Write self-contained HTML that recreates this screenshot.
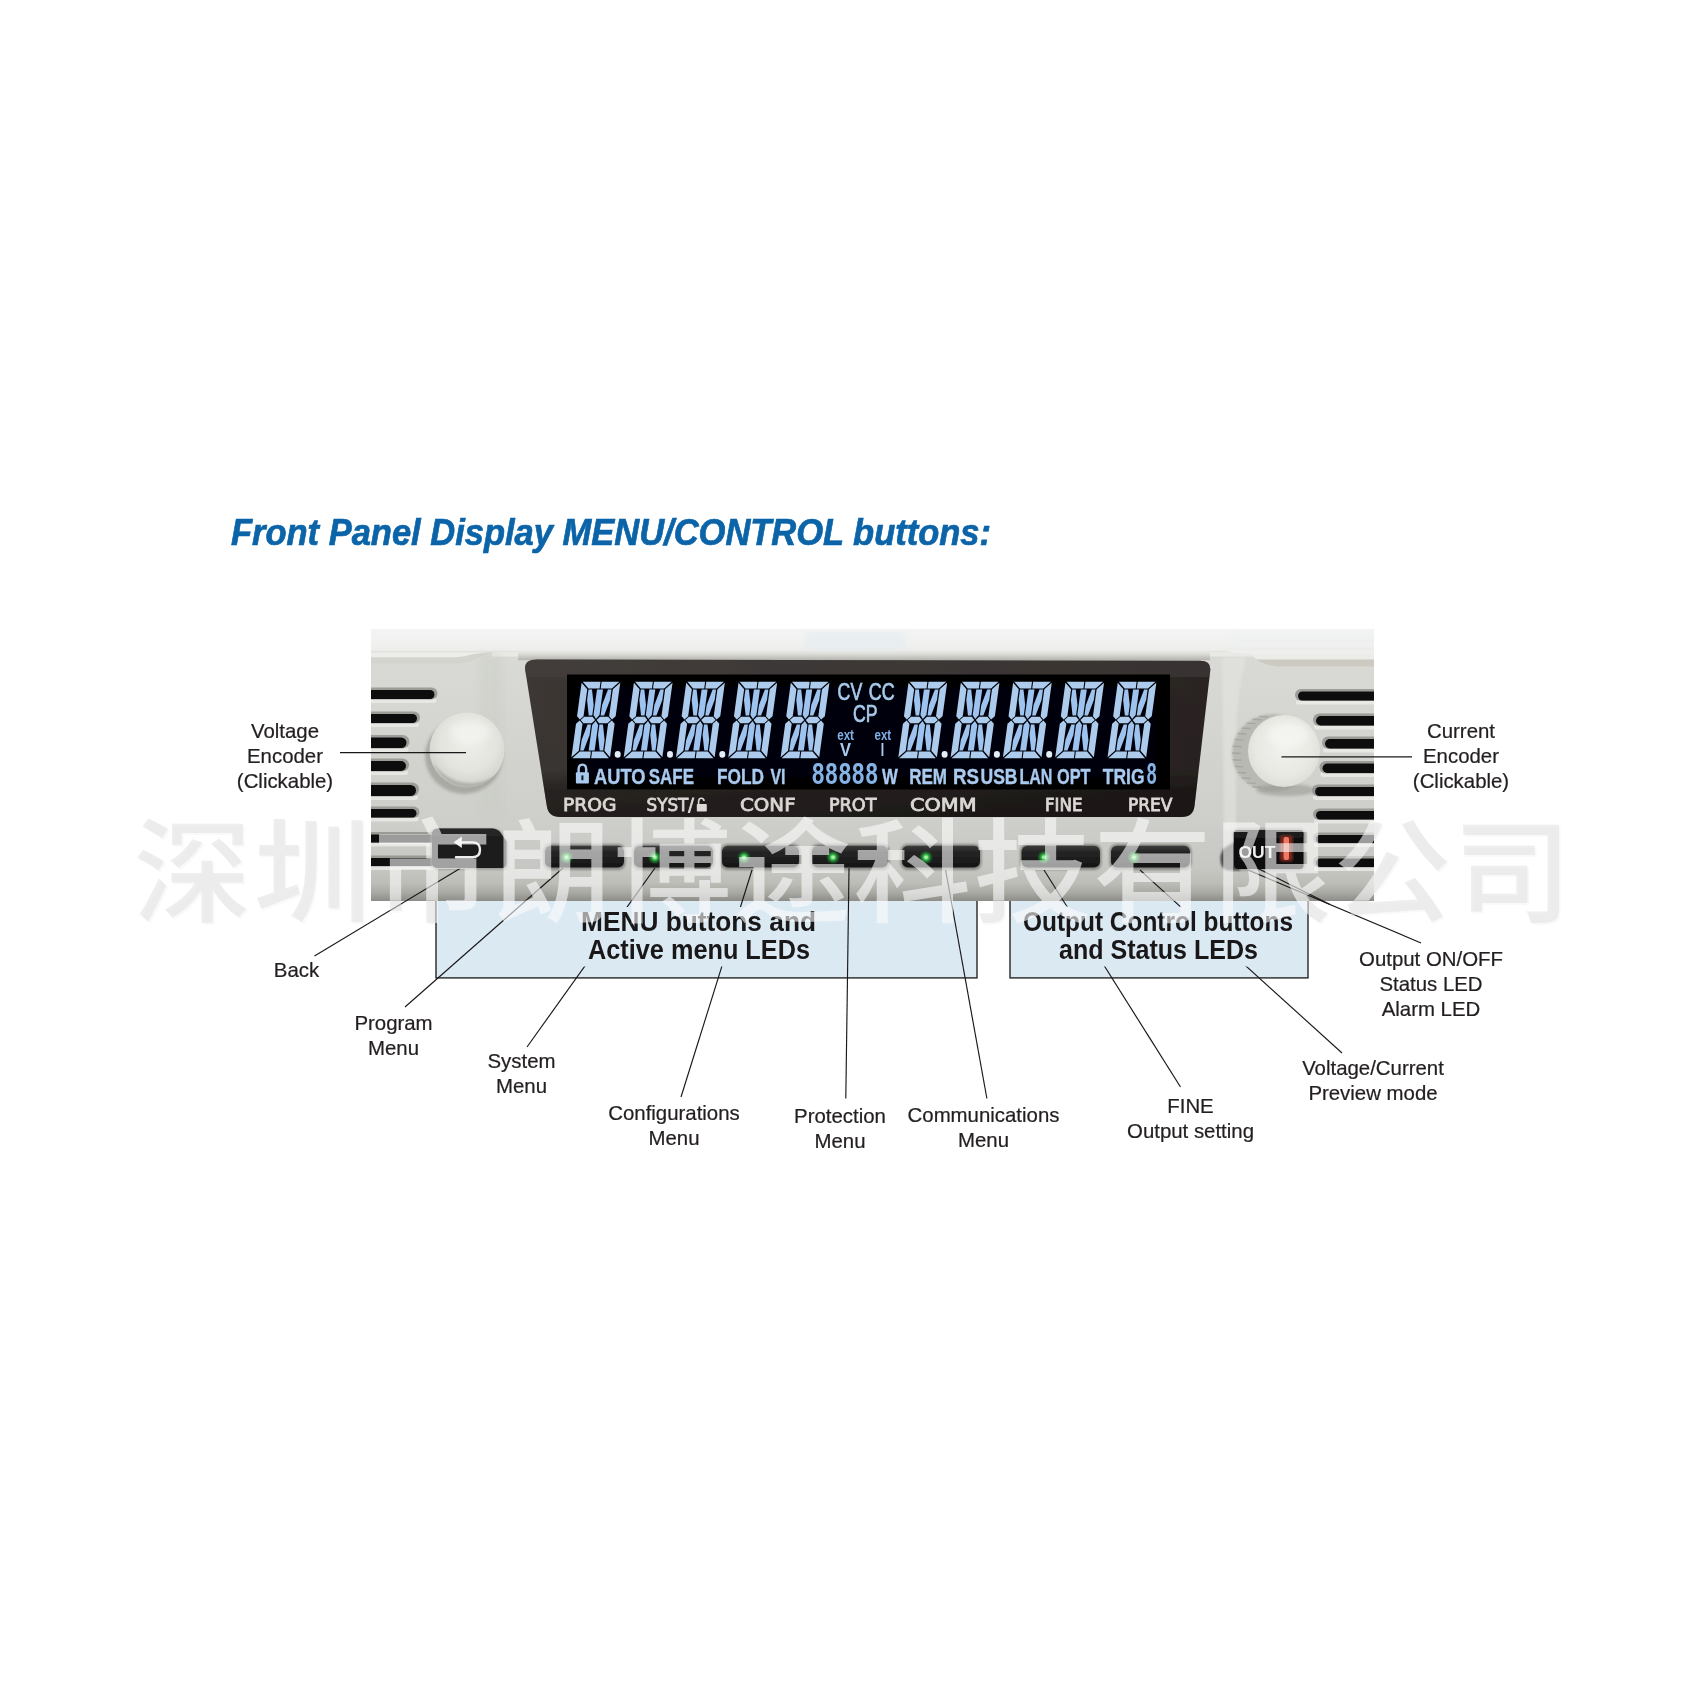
<!DOCTYPE html>
<html lang="zh-CN">
<head>
<meta charset="utf-8">
<title>Front Panel Display MENU/CONTROL buttons</title>
<style>
  html,body{margin:0;padding:0;background:#fff;}
  body{width:1702px;height:1702px;overflow:hidden;}
  svg{display:block;}
</style>
</head>
<body>
<svg width="1702" height="1702" viewBox="0 0 1702 1702" font-family="&quot;Liberation Sans&quot;, &quot;Noto Sans CJK SC&quot;, sans-serif">
<rect width="1702" height="1702" fill="#ffffff"/>

<defs>
  <clipPath id="photoClip"><rect x="371" y="629" width="1003" height="271.5"/></clipPath>
  <clipPath id="wmIn"><path d="M371 629 H1374 V900.5 H371 Z M435.3 900.5 H977.7 V978.3 H435.3 Z M1009.3 900.5 H1308.7 V978.3 H1009.3 Z"/></clipPath>
  <clipPath id="wmOut"><path d="M0 0 H1702 V1702 H0 Z M371 629 V900.5 H1374 V629 Z M435.3 900.5 V978.3 H977.7 V900.5 Z M1009.3 900.5 V978.3 H1308.7 V900.5 Z" clip-rule="evenodd"/></clipPath>
  <linearGradient id="topLip" x1="0" y1="0" x2="0" y2="1">
    <stop offset="0" stop-color="#e8e8e4"/><stop offset="0.45" stop-color="#d3d3ce"/><stop offset="1" stop-color="#b4b4ae"/>
  </linearGradient>
  <linearGradient id="bezelV" x1="0" y1="0" x2="0" y2="1">
    <stop offset="0" stop-color="#000000" stop-opacity="0"/><stop offset="0.7" stop-color="#000000" stop-opacity="0.05"/><stop offset="0.84" stop-color="#0a0606" stop-opacity="0.42"/><stop offset="1" stop-color="#0a0606" stop-opacity="0.5"/>
  </linearGradient>
  <linearGradient id="bezelH" x1="0" y1="0" x2="1" y2="0">
    <stop offset="0" stop-color="#3d3835"/><stop offset="0.5" stop-color="#332e2c"/><stop offset="1" stop-color="#2a2422"/>
  </linearGradient>
  <clipPath id="lcdClip"><rect x="566" y="673" width="604" height="119"/></clipPath>
  <linearGradient id="topStrip" x1="0" y1="0" x2="0" y2="1">
    <stop offset="0" stop-color="#f4f4f4"/><stop offset="0.7" stop-color="#f0f0ef"/><stop offset="1" stop-color="#e9e9e6"/>
  </linearGradient>
  <linearGradient id="panelV" x1="0" y1="0" x2="0" y2="1">
    <stop offset="0" stop-color="#e4e4de"/>
    <stop offset="0.10" stop-color="#d9dad5"/>
    <stop offset="0.70" stop-color="#cecfca"/>
    <stop offset="0.88" stop-color="#c6c7c2"/>
    <stop offset="0.935" stop-color="#bdbdb8"/>
    <stop offset="0.97" stop-color="#a9a9a4"/>
    <stop offset="1" stop-color="#8d8c88"/>
  </linearGradient>
  <radialGradient id="knobL" cx="0.52" cy="0.40" r="0.64">
    <stop offset="0" stop-color="#eeeeea"/><stop offset="0.6" stop-color="#e4e4df"/><stop offset="0.86" stop-color="#d6d6d0"/><stop offset="1" stop-color="#bdbdb7"/>
  </radialGradient>
  <radialGradient id="knobR" cx="0.5" cy="0.45" r="0.6">
    <stop offset="0" stop-color="#f1f1ed"/><stop offset="0.65" stop-color="#e9e9e4"/><stop offset="0.9" stop-color="#dedfd9"/><stop offset="1" stop-color="#cacac4"/>
  </radialGradient>
  <radialGradient id="led" cx="0.5" cy="0.5" r="0.5">
    <stop offset="0" stop-color="#9df29c"/><stop offset="0.3" stop-color="#47cf58"/><stop offset="0.65" stop-color="#1f8433" stop-opacity="0.7"/><stop offset="1" stop-color="#1a5a28" stop-opacity="0"/>
  </radialGradient>
  <linearGradient id="btn" x1="0" y1="0" x2="0" y2="1">
    <stop offset="0" stop-color="#3c3c3c"/><stop offset="0.3" stop-color="#242424"/><stop offset="1" stop-color="#151515"/>
  </linearGradient>
  <linearGradient id="segV" x1="0" y1="0" x2="0" y2="1">
    <stop offset="0" stop-color="#a9cbee"/><stop offset="1" stop-color="#8fb6e2"/>
  </linearGradient>
  <filter id="photoBlur" filterUnits="userSpaceOnUse" x="351" y="609" width="1043" height="312"><feGaussianBlur stdDeviation="0.6"/></filter>
  <filter id="soft" x="-5%" y="-5%" width="110%" height="110%"><feGaussianBlur stdDeviation="0.7"/></filter>
  <filter id="soft1" x="-5%" y="-5%" width="110%" height="110%"><feGaussianBlur stdDeviation="1.1"/></filter>
  <filter id="soft2" x="-10%" y="-10%" width="120%" height="120%"><feGaussianBlur stdDeviation="1.8"/></filter>
  <filter id="soft3" x="-20%" y="-20%" width="140%" height="140%"><feGaussianBlur stdDeviation="3.2"/></filter>
  <filter id="soft5" x="-30%" y="-30%" width="160%" height="160%"><feGaussianBlur stdDeviation="5"/></filter>
  <filter id="tsoft" x="-5%" y="-30%" width="110%" height="160%"><feGaussianBlur stdDeviation="0.5"/></filter>
  <filter id="glow" x="-10%" y="-10%" width="120%" height="120%"><feGaussianBlur stdDeviation="0.75"/></filter>
</defs>


<g id="boxes">
  <rect x="436" y="890" width="541" height="87.9" fill="#dbe9f3" stroke="#262626" stroke-width="1.4"/>
  <rect x="1010" y="890" width="298" height="87.9" fill="#dbe9f3" stroke="#262626" stroke-width="1.4"/>
</g>

<g id="photo" clip-path="url(#photoClip)">
<g filter="url(#photoBlur)">
<rect x="351" y="609" width="1043" height="312" fill="#d8d8d3"/>
<rect x="371" y="629" width="1003" height="272" fill="url(#panelV)"/>
<rect x="371" y="629" width="1003" height="24.5" fill="url(#topStrip)"/>
<rect x="805" y="632" width="100" height="18" fill="#dfeaf1" opacity="0.5" filter="url(#soft3)"/>
<rect x="1230" y="632" width="150" height="18" fill="#e8ecf0" opacity="0.2" filter="url(#soft3)"/>
<g filter="url(#soft)">
<rect x="371" y="651.2" width="1003" height="1.6" fill="#dcdcd8" opacity="0.7"/>
<rect x="492" y="652" width="882" height="4.5" fill="#e9e9e5"/>
<rect x="518" y="651.6" width="692" height="8.6" fill="url(#topLip)"/>
<path d="M371 652.5 L488 652.5 Q476 653.5 468 655.5 Q460 657.5 448 657.5 L371 657.5 Z" fill="#edede9"/>
<path d="M371 657.5 L448 657.5 Q460 657.5 468 655.5 Q476 653.5 488 652.5 L496 652.5 Q484 654.5 477 658.5 Q469 663.2 456 663.2 L371 663.2 Z" fill="#d2d3cd" opacity="0.9"/>
<rect x="480" y="655" width="22" height="160" fill="#c9cac4" opacity="0.35" filter="url(#soft3)"/>
<path d="M1222 657 L1246 657 Q1236 700 1236 740 L1236 830 L1224 830 Z" fill="#e6e6e2" opacity="0.55" filter="url(#soft2)"/>
<path d="M1228 650.5 L1374 650.5 L1374 654.2 L1258 654.2 Q1240 653.8 1228 651.6 Z" fill="#efefee"/>
<path d="M1252 654.4 L1374 654.4 L1374 659.8 L1257 659.8 Q1253 657 1252 654.4 Z" fill="#ecece8"/>
<path d="M1256 659.6 L1374 659.6 L1374 666.4 L1278 666.4 Q1265 665.4 1256 659.6 Z" fill="#cbc8bf" opacity="0.9"/>
<rect x="360" y="698" width="76.5" height="5" rx="2.5" fill="#ecece8" opacity="0.75"/>
<rect x="360" y="687.5" width="77.5" height="12" rx="6" fill="#8e8e89" opacity="0.8"/>
<rect x="360" y="690" width="74.5" height="9" rx="4.5" fill="#0d0d0d"/>
<rect x="360" y="722" width="59" height="5" rx="2.5" fill="#ecece8" opacity="0.75"/>
<rect x="360" y="711.5" width="60" height="12" rx="6" fill="#8e8e89" opacity="0.8"/>
<rect x="360" y="714" width="57" height="9" rx="4.5" fill="#0d0d0d"/>
<rect x="360" y="747" width="48.5" height="5" rx="2.5" fill="#ecece8" opacity="0.75"/>
<rect x="360" y="735" width="49.5" height="13.5" rx="6.75" fill="#8e8e89" opacity="0.8"/>
<rect x="360" y="737.5" width="46.5" height="10.5" rx="5.25" fill="#0d0d0d"/>
<rect x="360" y="770" width="48" height="5" rx="2.5" fill="#ecece8" opacity="0.75"/>
<rect x="360" y="758.5" width="49" height="13" rx="6.5" fill="#8e8e89" opacity="0.8"/>
<rect x="360" y="761" width="46" height="10" rx="5" fill="#0d0d0d"/>
<rect x="360" y="795" width="58" height="5" rx="2.5" fill="#ecece8" opacity="0.75"/>
<rect x="360" y="782.5" width="59" height="14" rx="7" fill="#8e8e89" opacity="0.8"/>
<rect x="360" y="785" width="56" height="11" rx="5.5" fill="#0d0d0d"/>
<rect x="360" y="816.5" width="58.5" height="5" rx="2.5" fill="#ecece8" opacity="0.75"/>
<rect x="360" y="806.5" width="59.5" height="11.5" rx="5.75" fill="#8e8e89" opacity="0.8"/>
<rect x="360" y="809" width="56.5" height="8.5" rx="4.25" fill="#0d0d0d"/>
<rect x="360" y="841.5" width="76" height="5" rx="2.5" fill="#ecece8" opacity="0.75"/>
<rect x="360" y="832" width="77" height="11" rx="5.5" fill="#8e8e89" opacity="0.8"/>
<rect x="360" y="834.5" width="74" height="8" rx="4" fill="#0d0d0d"/>
<rect x="360" y="865" width="76" height="5" rx="2.5" fill="#ecece8" opacity="0.75"/>
<rect x="360" y="855.5" width="77" height="11" rx="5.5" fill="#8e8e89" opacity="0.8"/>
<rect x="360" y="858" width="74" height="8" rx="4" fill="#0d0d0d"/>
<rect x="1296" y="699.5" width="92" height="5" rx="2.5" fill="#f0f0ec" opacity="0.7"/>
<rect x="1295" y="689" width="92" height="12" rx="6" fill="#8e8e89" opacity="0.8"/>
<rect x="1298" y="691.5" width="92" height="9" rx="4.5" fill="#0d0d0d"/>
<rect x="1314" y="724.5" width="74" height="5" rx="2.5" fill="#f0f0ec" opacity="0.7"/>
<rect x="1313" y="713.5" width="74" height="12.5" rx="6.25" fill="#8e8e89" opacity="0.8"/>
<rect x="1316" y="716" width="74" height="9.5" rx="4.75" fill="#0d0d0d"/>
<rect x="1323" y="747.5" width="65" height="5" rx="2.5" fill="#f0f0ec" opacity="0.7"/>
<rect x="1322" y="736.5" width="65" height="12.5" rx="6.25" fill="#8e8e89" opacity="0.8"/>
<rect x="1325" y="739" width="65" height="9.5" rx="4.75" fill="#0d0d0d"/>
<rect x="1320.5" y="772" width="67.5" height="5" rx="2.5" fill="#f0f0ec" opacity="0.7"/>
<rect x="1319.5" y="761" width="67.5" height="12.5" rx="6.25" fill="#8e8e89" opacity="0.8"/>
<rect x="1322.5" y="763.5" width="67.5" height="9.5" rx="4.75" fill="#0d0d0d"/>
<rect x="1313" y="795" width="75" height="5" rx="2.5" fill="#f0f0ec" opacity="0.7"/>
<rect x="1312" y="784.5" width="75" height="12" rx="6" fill="#8e8e89" opacity="0.8"/>
<rect x="1315" y="787" width="75" height="9" rx="4.5" fill="#0d0d0d"/>
<rect x="1314" y="818.5" width="74" height="5" rx="2.5" fill="#f0f0ec" opacity="0.7"/>
<rect x="1313" y="808.5" width="74" height="11.5" rx="5.75" fill="#8e8e89" opacity="0.8"/>
<rect x="1316" y="811" width="74" height="8.5" rx="4.25" fill="#0d0d0d"/>
<rect x="1314" y="842" width="74" height="5" rx="2.5" fill="#f0f0ec" opacity="0.7"/>
<rect x="1313" y="832.5" width="74" height="11" rx="5.5" fill="#8e8e89" opacity="0.8"/>
<rect x="1316" y="835" width="74" height="8" rx="4" fill="#0d0d0d"/>
<rect x="1314" y="866" width="74" height="5" rx="2.5" fill="#f0f0ec" opacity="0.7"/>
<rect x="1313" y="856" width="74" height="11.5" rx="5.75" fill="#8e8e89" opacity="0.8"/>
<rect x="1316" y="858.5" width="74" height="8.5" rx="4.25" fill="#0d0d0d"/>
</g>
<ellipse cx="464" cy="756" rx="39" ry="38" fill="#9d9d97" opacity="0.75" filter="url(#soft2)"/>
<circle cx="467" cy="750" r="37.5" fill="url(#knobL)" filter="url(#soft)"/>
<path d="M433 762 A37 37 0 0 0 497 774 A44 44 0 0 1 433 762 Z" fill="#a5a59f" opacity="0.7" filter="url(#soft1)"/>
<ellipse cx="470" cy="732" rx="20" ry="11" fill="#f6f6f3" opacity="0.6" filter="url(#soft3)"/>
<ellipse cx="1273" cy="753" rx="41" ry="39" fill="#b9b9b3" filter="url(#soft1)"/>
<line x1="1258.98" y1="716.35" x2="1267.98" y2="716.85" stroke="#9a9a94" stroke-width="1.4" opacity="0.6"/>
<line x1="1252.5" y1="719.23" x2="1261.5" y2="719.73" stroke="#9a9a94" stroke-width="1.4" opacity="0.6"/>
<line x1="1246.65" y1="723.12" x2="1255.65" y2="723.62" stroke="#9a9a94" stroke-width="1.4" opacity="0.6"/>
<line x1="1241.59" y1="727.93" x2="1250.59" y2="728.43" stroke="#9a9a94" stroke-width="1.4" opacity="0.6"/>
<line x1="1237.49" y1="733.5" x2="1246.49" y2="734" stroke="#9a9a94" stroke-width="1.4" opacity="0.6"/>
<line x1="1234.47" y1="739.66" x2="1243.47" y2="740.16" stroke="#9a9a94" stroke-width="1.4" opacity="0.6"/>
<line x1="1232.62" y1="746.23" x2="1241.62" y2="746.73" stroke="#9a9a94" stroke-width="1.4" opacity="0.6"/>
<line x1="1232" y1="753" x2="1241" y2="753.5" stroke="#9a9a94" stroke-width="1.4" opacity="0.6"/>
<line x1="1232.62" y1="759.77" x2="1241.62" y2="760.27" stroke="#9a9a94" stroke-width="1.4" opacity="0.6"/>
<line x1="1234.47" y1="766.34" x2="1243.47" y2="766.84" stroke="#9a9a94" stroke-width="1.4" opacity="0.6"/>
<line x1="1237.49" y1="772.5" x2="1246.49" y2="773" stroke="#9a9a94" stroke-width="1.4" opacity="0.6"/>
<line x1="1241.59" y1="778.07" x2="1250.59" y2="778.57" stroke="#9a9a94" stroke-width="1.4" opacity="0.6"/>
<line x1="1246.65" y1="782.88" x2="1255.65" y2="783.38" stroke="#9a9a94" stroke-width="1.4" opacity="0.6"/>
<line x1="1252.5" y1="786.77" x2="1261.5" y2="787.27" stroke="#9a9a94" stroke-width="1.4" opacity="0.6"/>
<ellipse cx="1286" cy="790" rx="30" ry="6" fill="#8f8f89" opacity="0.5" filter="url(#soft2)"/>
<circle cx="1284" cy="751" r="36" fill="url(#knobR)" filter="url(#soft)"/>
<ellipse cx="1288" cy="735" rx="20" ry="12" fill="#f8f8f5" opacity="0.6" filter="url(#soft3)"/>
<g filter="url(#soft)">
<path d="M537 659.5 L1200 660.8 Q1211.5 660.8 1210.2 671 L1194.5 806 Q1193 817 1182 817 L560 817 Q548.5 817 546.8 806 L525.2 670 Q523.6 659.5 537 659.5 Z" fill="url(#bezelH)"/>
<path d="M537 659.5 L1200 660.8 Q1211.5 660.8 1210.2 671 L1194.5 806 Q1193 817 1182 817 L560 817 Q548.5 817 546.8 806 L525.2 670 Q523.6 659.5 537 659.5 Z" fill="url(#bezelV)"/>
<path d="M537 659.5 L1200 660.8 Q1211.5 660.8 1210.2 671 L1209.4 677 L526.3 677 L525.2 670 Q523.6 659.5 537 659.5 Z" fill="#4a4542" opacity="0.45"/>
<rect x="567" y="674.5" width="603" height="115" fill="#020203"/>
</g>
<g id="lcd">
<rect x="575" y="682" width="585" height="100" fill="#0a1626" opacity="0.22" filter="url(#soft5)"/>
<g filter="url(#glow)">
<g transform="translate(571.3 758.2) skewX(-7.8) translate(0 -76.4)"><path d="M1 0 L18.75 0 L18.75 6.6 L7.6 6.6 Z M19.85 0 L37.6 0 L31 6.6 L19.85 6.6 Z M7.6 69.8 L18.75 69.8 L18.75 76.4 L1 76.4 Z M19.85 69.8 L31 69.8 L37.6 76.4 L19.85 76.4 Z M0 1 L6.5 7.5 L6.5 34.45 L3.25 37.65 L0 34.45 Z M0 41.95 L3.25 38.75 L6.5 41.95 L6.5 68.9 L0 75.4 Z M38.6 1 L32.1 7.5 L32.1 34.45 L35.35 37.65 L38.6 34.45 Z M38.6 41.95 L35.35 38.75 L32.1 41.95 L32.1 68.9 L38.6 75.4 Z M4.1 38.2 L7.35 35 L15.55 35 L18.55 38.2 L15.55 41.4 L7.35 41.4 Z M34.5 38.2 L31.25 35 L23.05 35 L20.05 38.2 L23.05 41.4 L31.25 41.4 Z" fill="#adcced"/><path d="M16.3 7.7 L22.3 7.7 L22.3 33.3 L19.3 37.1 L16.3 33.3 Z M16.3 68.7 L22.3 68.7 L22.3 43.1 L19.3 39.3 L16.3 43.1 Z M7.8 7.8 L11.3 7.8 L15.1 23.3 L15.1 33.8 L11.6 33.8 L7.8 18.3 Z M30.8 7.8 L27.3 7.8 L23.5 23.3 L23.5 33.8 L27 33.8 L30.8 18.3 Z M7.8 68.6 L11.3 68.6 L15.1 53.1 L15.1 42.6 L11.6 42.6 L7.8 58.1 Z M30.8 68.6 L27.3 68.6 L23.5 53.1 L23.5 42.6 L27 42.6 L30.8 58.1 Z" fill="#9dc3ee"/></g>
<g transform="translate(623.6 758.2) skewX(-7.8) translate(0 -76.4)"><path d="M1 0 L18.75 0 L18.75 6.6 L7.6 6.6 Z M19.85 0 L37.6 0 L31 6.6 L19.85 6.6 Z M7.6 69.8 L18.75 69.8 L18.75 76.4 L1 76.4 Z M19.85 69.8 L31 69.8 L37.6 76.4 L19.85 76.4 Z M0 1 L6.5 7.5 L6.5 34.45 L3.25 37.65 L0 34.45 Z M0 41.95 L3.25 38.75 L6.5 41.95 L6.5 68.9 L0 75.4 Z M38.6 1 L32.1 7.5 L32.1 34.45 L35.35 37.65 L38.6 34.45 Z M38.6 41.95 L35.35 38.75 L32.1 41.95 L32.1 68.9 L38.6 75.4 Z M4.1 38.2 L7.35 35 L15.55 35 L18.55 38.2 L15.55 41.4 L7.35 41.4 Z M34.5 38.2 L31.25 35 L23.05 35 L20.05 38.2 L23.05 41.4 L31.25 41.4 Z" fill="#adcced"/><path d="M16.3 7.7 L22.3 7.7 L22.3 33.3 L19.3 37.1 L16.3 33.3 Z M16.3 68.7 L22.3 68.7 L22.3 43.1 L19.3 39.3 L16.3 43.1 Z M7.8 7.8 L11.3 7.8 L15.1 23.3 L15.1 33.8 L11.6 33.8 L7.8 18.3 Z M30.8 7.8 L27.3 7.8 L23.5 23.3 L23.5 33.8 L27 33.8 L30.8 18.3 Z M7.8 68.6 L11.3 68.6 L15.1 53.1 L15.1 42.6 L11.6 42.6 L7.8 58.1 Z M30.8 68.6 L27.3 68.6 L23.5 53.1 L23.5 42.6 L27 42.6 L30.8 58.1 Z" fill="#9dc3ee"/></g>
<g transform="translate(675.9 758.2) skewX(-7.8) translate(0 -76.4)"><path d="M1 0 L18.75 0 L18.75 6.6 L7.6 6.6 Z M19.85 0 L37.6 0 L31 6.6 L19.85 6.6 Z M7.6 69.8 L18.75 69.8 L18.75 76.4 L1 76.4 Z M19.85 69.8 L31 69.8 L37.6 76.4 L19.85 76.4 Z M0 1 L6.5 7.5 L6.5 34.45 L3.25 37.65 L0 34.45 Z M0 41.95 L3.25 38.75 L6.5 41.95 L6.5 68.9 L0 75.4 Z M38.6 1 L32.1 7.5 L32.1 34.45 L35.35 37.65 L38.6 34.45 Z M38.6 41.95 L35.35 38.75 L32.1 41.95 L32.1 68.9 L38.6 75.4 Z M4.1 38.2 L7.35 35 L15.55 35 L18.55 38.2 L15.55 41.4 L7.35 41.4 Z M34.5 38.2 L31.25 35 L23.05 35 L20.05 38.2 L23.05 41.4 L31.25 41.4 Z" fill="#adcced"/><path d="M16.3 7.7 L22.3 7.7 L22.3 33.3 L19.3 37.1 L16.3 33.3 Z M16.3 68.7 L22.3 68.7 L22.3 43.1 L19.3 39.3 L16.3 43.1 Z M7.8 7.8 L11.3 7.8 L15.1 23.3 L15.1 33.8 L11.6 33.8 L7.8 18.3 Z M30.8 7.8 L27.3 7.8 L23.5 23.3 L23.5 33.8 L27 33.8 L30.8 18.3 Z M7.8 68.6 L11.3 68.6 L15.1 53.1 L15.1 42.6 L11.6 42.6 L7.8 58.1 Z M30.8 68.6 L27.3 68.6 L23.5 53.1 L23.5 42.6 L27 42.6 L30.8 58.1 Z" fill="#9dc3ee"/></g>
<g transform="translate(728.2 758.2) skewX(-7.8) translate(0 -76.4)"><path d="M1 0 L18.75 0 L18.75 6.6 L7.6 6.6 Z M19.85 0 L37.6 0 L31 6.6 L19.85 6.6 Z M7.6 69.8 L18.75 69.8 L18.75 76.4 L1 76.4 Z M19.85 69.8 L31 69.8 L37.6 76.4 L19.85 76.4 Z M0 1 L6.5 7.5 L6.5 34.45 L3.25 37.65 L0 34.45 Z M0 41.95 L3.25 38.75 L6.5 41.95 L6.5 68.9 L0 75.4 Z M38.6 1 L32.1 7.5 L32.1 34.45 L35.35 37.65 L38.6 34.45 Z M38.6 41.95 L35.35 38.75 L32.1 41.95 L32.1 68.9 L38.6 75.4 Z M4.1 38.2 L7.35 35 L15.55 35 L18.55 38.2 L15.55 41.4 L7.35 41.4 Z M34.5 38.2 L31.25 35 L23.05 35 L20.05 38.2 L23.05 41.4 L31.25 41.4 Z" fill="#adcced"/><path d="M16.3 7.7 L22.3 7.7 L22.3 33.3 L19.3 37.1 L16.3 33.3 Z M16.3 68.7 L22.3 68.7 L22.3 43.1 L19.3 39.3 L16.3 43.1 Z M7.8 7.8 L11.3 7.8 L15.1 23.3 L15.1 33.8 L11.6 33.8 L7.8 18.3 Z M30.8 7.8 L27.3 7.8 L23.5 23.3 L23.5 33.8 L27 33.8 L30.8 18.3 Z M7.8 68.6 L11.3 68.6 L15.1 53.1 L15.1 42.6 L11.6 42.6 L7.8 58.1 Z M30.8 68.6 L27.3 68.6 L23.5 53.1 L23.5 42.6 L27 42.6 L30.8 58.1 Z" fill="#9dc3ee"/></g>
<g transform="translate(780.5 758.2) skewX(-7.8) translate(0 -76.4)"><path d="M1 0 L18.75 0 L18.75 6.6 L7.6 6.6 Z M19.85 0 L37.6 0 L31 6.6 L19.85 6.6 Z M7.6 69.8 L18.75 69.8 L18.75 76.4 L1 76.4 Z M19.85 69.8 L31 69.8 L37.6 76.4 L19.85 76.4 Z M0 1 L6.5 7.5 L6.5 34.45 L3.25 37.65 L0 34.45 Z M0 41.95 L3.25 38.75 L6.5 41.95 L6.5 68.9 L0 75.4 Z M38.6 1 L32.1 7.5 L32.1 34.45 L35.35 37.65 L38.6 34.45 Z M38.6 41.95 L35.35 38.75 L32.1 41.95 L32.1 68.9 L38.6 75.4 Z M4.1 38.2 L7.35 35 L15.55 35 L18.55 38.2 L15.55 41.4 L7.35 41.4 Z M34.5 38.2 L31.25 35 L23.05 35 L20.05 38.2 L23.05 41.4 L31.25 41.4 Z" fill="#adcced"/><path d="M16.3 7.7 L22.3 7.7 L22.3 33.3 L19.3 37.1 L16.3 33.3 Z M16.3 68.7 L22.3 68.7 L22.3 43.1 L19.3 39.3 L16.3 43.1 Z M7.8 7.8 L11.3 7.8 L15.1 23.3 L15.1 33.8 L11.6 33.8 L7.8 18.3 Z M30.8 7.8 L27.3 7.8 L23.5 23.3 L23.5 33.8 L27 33.8 L30.8 18.3 Z M7.8 68.6 L11.3 68.6 L15.1 53.1 L15.1 42.6 L11.6 42.6 L7.8 58.1 Z M30.8 68.6 L27.3 68.6 L23.5 53.1 L23.5 42.6 L27 42.6 L30.8 58.1 Z" fill="#9dc3ee"/></g>
<g transform="translate(898.2 758.2) skewX(-7.8) translate(0 -76.4)"><path d="M1 0 L18.75 0 L18.75 6.6 L7.6 6.6 Z M19.85 0 L37.6 0 L31 6.6 L19.85 6.6 Z M7.6 69.8 L18.75 69.8 L18.75 76.4 L1 76.4 Z M19.85 69.8 L31 69.8 L37.6 76.4 L19.85 76.4 Z M0 1 L6.5 7.5 L6.5 34.45 L3.25 37.65 L0 34.45 Z M0 41.95 L3.25 38.75 L6.5 41.95 L6.5 68.9 L0 75.4 Z M38.6 1 L32.1 7.5 L32.1 34.45 L35.35 37.65 L38.6 34.45 Z M38.6 41.95 L35.35 38.75 L32.1 41.95 L32.1 68.9 L38.6 75.4 Z M4.1 38.2 L7.35 35 L15.55 35 L18.55 38.2 L15.55 41.4 L7.35 41.4 Z M34.5 38.2 L31.25 35 L23.05 35 L20.05 38.2 L23.05 41.4 L31.25 41.4 Z" fill="#adcced"/><path d="M16.3 7.7 L22.3 7.7 L22.3 33.3 L19.3 37.1 L16.3 33.3 Z M16.3 68.7 L22.3 68.7 L22.3 43.1 L19.3 39.3 L16.3 43.1 Z M7.8 7.8 L11.3 7.8 L15.1 23.3 L15.1 33.8 L11.6 33.8 L7.8 18.3 Z M30.8 7.8 L27.3 7.8 L23.5 23.3 L23.5 33.8 L27 33.8 L30.8 18.3 Z M7.8 68.6 L11.3 68.6 L15.1 53.1 L15.1 42.6 L11.6 42.6 L7.8 58.1 Z M30.8 68.6 L27.3 68.6 L23.5 53.1 L23.5 42.6 L27 42.6 L30.8 58.1 Z" fill="#9dc3ee"/></g>
<g transform="translate(950.5 758.2) skewX(-7.8) translate(0 -76.4)"><path d="M1 0 L18.75 0 L18.75 6.6 L7.6 6.6 Z M19.85 0 L37.6 0 L31 6.6 L19.85 6.6 Z M7.6 69.8 L18.75 69.8 L18.75 76.4 L1 76.4 Z M19.85 69.8 L31 69.8 L37.6 76.4 L19.85 76.4 Z M0 1 L6.5 7.5 L6.5 34.45 L3.25 37.65 L0 34.45 Z M0 41.95 L3.25 38.75 L6.5 41.95 L6.5 68.9 L0 75.4 Z M38.6 1 L32.1 7.5 L32.1 34.45 L35.35 37.65 L38.6 34.45 Z M38.6 41.95 L35.35 38.75 L32.1 41.95 L32.1 68.9 L38.6 75.4 Z M4.1 38.2 L7.35 35 L15.55 35 L18.55 38.2 L15.55 41.4 L7.35 41.4 Z M34.5 38.2 L31.25 35 L23.05 35 L20.05 38.2 L23.05 41.4 L31.25 41.4 Z" fill="#adcced"/><path d="M16.3 7.7 L22.3 7.7 L22.3 33.3 L19.3 37.1 L16.3 33.3 Z M16.3 68.7 L22.3 68.7 L22.3 43.1 L19.3 39.3 L16.3 43.1 Z M7.8 7.8 L11.3 7.8 L15.1 23.3 L15.1 33.8 L11.6 33.8 L7.8 18.3 Z M30.8 7.8 L27.3 7.8 L23.5 23.3 L23.5 33.8 L27 33.8 L30.8 18.3 Z M7.8 68.6 L11.3 68.6 L15.1 53.1 L15.1 42.6 L11.6 42.6 L7.8 58.1 Z M30.8 68.6 L27.3 68.6 L23.5 53.1 L23.5 42.6 L27 42.6 L30.8 58.1 Z" fill="#9dc3ee"/></g>
<g transform="translate(1002.8 758.2) skewX(-7.8) translate(0 -76.4)"><path d="M1 0 L18.75 0 L18.75 6.6 L7.6 6.6 Z M19.85 0 L37.6 0 L31 6.6 L19.85 6.6 Z M7.6 69.8 L18.75 69.8 L18.75 76.4 L1 76.4 Z M19.85 69.8 L31 69.8 L37.6 76.4 L19.85 76.4 Z M0 1 L6.5 7.5 L6.5 34.45 L3.25 37.65 L0 34.45 Z M0 41.95 L3.25 38.75 L6.5 41.95 L6.5 68.9 L0 75.4 Z M38.6 1 L32.1 7.5 L32.1 34.45 L35.35 37.65 L38.6 34.45 Z M38.6 41.95 L35.35 38.75 L32.1 41.95 L32.1 68.9 L38.6 75.4 Z M4.1 38.2 L7.35 35 L15.55 35 L18.55 38.2 L15.55 41.4 L7.35 41.4 Z M34.5 38.2 L31.25 35 L23.05 35 L20.05 38.2 L23.05 41.4 L31.25 41.4 Z" fill="#adcced"/><path d="M16.3 7.7 L22.3 7.7 L22.3 33.3 L19.3 37.1 L16.3 33.3 Z M16.3 68.7 L22.3 68.7 L22.3 43.1 L19.3 39.3 L16.3 43.1 Z M7.8 7.8 L11.3 7.8 L15.1 23.3 L15.1 33.8 L11.6 33.8 L7.8 18.3 Z M30.8 7.8 L27.3 7.8 L23.5 23.3 L23.5 33.8 L27 33.8 L30.8 18.3 Z M7.8 68.6 L11.3 68.6 L15.1 53.1 L15.1 42.6 L11.6 42.6 L7.8 58.1 Z M30.8 68.6 L27.3 68.6 L23.5 53.1 L23.5 42.6 L27 42.6 L30.8 58.1 Z" fill="#9dc3ee"/></g>
<g transform="translate(1055.1 758.2) skewX(-7.8) translate(0 -76.4)"><path d="M1 0 L18.75 0 L18.75 6.6 L7.6 6.6 Z M19.85 0 L37.6 0 L31 6.6 L19.85 6.6 Z M7.6 69.8 L18.75 69.8 L18.75 76.4 L1 76.4 Z M19.85 69.8 L31 69.8 L37.6 76.4 L19.85 76.4 Z M0 1 L6.5 7.5 L6.5 34.45 L3.25 37.65 L0 34.45 Z M0 41.95 L3.25 38.75 L6.5 41.95 L6.5 68.9 L0 75.4 Z M38.6 1 L32.1 7.5 L32.1 34.45 L35.35 37.65 L38.6 34.45 Z M38.6 41.95 L35.35 38.75 L32.1 41.95 L32.1 68.9 L38.6 75.4 Z M4.1 38.2 L7.35 35 L15.55 35 L18.55 38.2 L15.55 41.4 L7.35 41.4 Z M34.5 38.2 L31.25 35 L23.05 35 L20.05 38.2 L23.05 41.4 L31.25 41.4 Z" fill="#adcced"/><path d="M16.3 7.7 L22.3 7.7 L22.3 33.3 L19.3 37.1 L16.3 33.3 Z M16.3 68.7 L22.3 68.7 L22.3 43.1 L19.3 39.3 L16.3 43.1 Z M7.8 7.8 L11.3 7.8 L15.1 23.3 L15.1 33.8 L11.6 33.8 L7.8 18.3 Z M30.8 7.8 L27.3 7.8 L23.5 23.3 L23.5 33.8 L27 33.8 L30.8 18.3 Z M7.8 68.6 L11.3 68.6 L15.1 53.1 L15.1 42.6 L11.6 42.6 L7.8 58.1 Z M30.8 68.6 L27.3 68.6 L23.5 53.1 L23.5 42.6 L27 42.6 L30.8 58.1 Z" fill="#9dc3ee"/></g>
<g transform="translate(1107.4 758.2) skewX(-7.8) translate(0 -76.4)"><path d="M1 0 L18.75 0 L18.75 6.6 L7.6 6.6 Z M19.85 0 L37.6 0 L31 6.6 L19.85 6.6 Z M7.6 69.8 L18.75 69.8 L18.75 76.4 L1 76.4 Z M19.85 69.8 L31 69.8 L37.6 76.4 L19.85 76.4 Z M0 1 L6.5 7.5 L6.5 34.45 L3.25 37.65 L0 34.45 Z M0 41.95 L3.25 38.75 L6.5 41.95 L6.5 68.9 L0 75.4 Z M38.6 1 L32.1 7.5 L32.1 34.45 L35.35 37.65 L38.6 34.45 Z M38.6 41.95 L35.35 38.75 L32.1 41.95 L32.1 68.9 L38.6 75.4 Z M4.1 38.2 L7.35 35 L15.55 35 L18.55 38.2 L15.55 41.4 L7.35 41.4 Z M34.5 38.2 L31.25 35 L23.05 35 L20.05 38.2 L23.05 41.4 L31.25 41.4 Z" fill="#adcced"/><path d="M16.3 7.7 L22.3 7.7 L22.3 33.3 L19.3 37.1 L16.3 33.3 Z M16.3 68.7 L22.3 68.7 L22.3 43.1 L19.3 39.3 L16.3 43.1 Z M7.8 7.8 L11.3 7.8 L15.1 23.3 L15.1 33.8 L11.6 33.8 L7.8 18.3 Z M30.8 7.8 L27.3 7.8 L23.5 23.3 L23.5 33.8 L27 33.8 L30.8 18.3 Z M7.8 68.6 L11.3 68.6 L15.1 53.1 L15.1 42.6 L11.6 42.6 L7.8 58.1 Z M30.8 68.6 L27.3 68.6 L23.5 53.1 L23.5 42.6 L27 42.6 L30.8 58.1 Z" fill="#9dc3ee"/></g>
<ellipse cx="617.7" cy="754.4" rx="3.0" ry="3.3" fill="#e3eefa"/>
<ellipse cx="670" cy="754.4" rx="3.0" ry="3.3" fill="#e3eefa"/>
<ellipse cx="722.3" cy="754.4" rx="3.0" ry="3.3" fill="#e3eefa"/>
<ellipse cx="944.6" cy="754.4" rx="3.0" ry="3.3" fill="#e3eefa"/>
<ellipse cx="996.9" cy="754.4" rx="3.0" ry="3.3" fill="#e3eefa"/>
<ellipse cx="1049.2" cy="754.4" rx="3.0" ry="3.3" fill="#e3eefa"/>
</g>
<g filter="url(#tsoft)" font-family="&quot;Liberation Sans&quot;, sans-serif" stroke="#a9caee" stroke-width="0.35">
<text x="594" y="783.9" font-size="21.4" font-weight="bold" fill="#a9caee" textLength="51.5" lengthAdjust="spacingAndGlyphs" >AUTO</text>
<text x="648.8" y="783.9" font-size="21.4" font-weight="bold" fill="#a9caee" textLength="45.2" lengthAdjust="spacingAndGlyphs" >SAFE</text>
<text x="717" y="783.9" font-size="21.4" font-weight="bold" fill="#a9caee" textLength="47" lengthAdjust="spacingAndGlyphs" >FOLD</text>
<text x="770.4" y="783.9" font-size="21.4" font-weight="bold" fill="#a9caee" textLength="15.1" lengthAdjust="spacingAndGlyphs" >VI</text>
<text x="882" y="783.9" font-size="21.4" font-weight="bold" fill="#a9caee" textLength="15.8" lengthAdjust="spacingAndGlyphs" >W</text>
<text x="909.2" y="783.9" font-size="21.4" font-weight="bold" fill="#a9caee" textLength="37.8" lengthAdjust="spacingAndGlyphs" >REM</text>
<text x="953" y="783.9" font-size="21.4" font-weight="bold" fill="#a9caee" textLength="26" lengthAdjust="spacingAndGlyphs" >RS</text>
<text x="980.5" y="783.9" font-size="21.4" font-weight="bold" fill="#a9caee" textLength="37" lengthAdjust="spacingAndGlyphs" >USB</text>
<text x="1019.4" y="783.9" font-size="21.4" font-weight="bold" fill="#a9caee" textLength="33.1" lengthAdjust="spacingAndGlyphs" >LAN</text>
<text x="1057" y="783.9" font-size="21.4" font-weight="bold" fill="#a9caee" textLength="33.5" lengthAdjust="spacingAndGlyphs" >OPT</text>
<text x="1102.8" y="783.9" font-size="21.4" font-weight="bold" fill="#a9caee" textLength="41.8" lengthAdjust="spacingAndGlyphs" >TRIG</text>
<text x="811.5" y="784.4" font-size="30.5" font-weight="bold" fill="#86b3e6" textLength="66.8" lengthAdjust="spacingAndGlyphs" stroke="none" font-family="&quot;Liberation Mono&quot;, monospace">88888</text>
<text x="1146.2" y="784.4" font-size="30.5" font-weight="bold" fill="#86b3e6" textLength="10.8" lengthAdjust="spacingAndGlyphs" stroke="none" font-family="&quot;Liberation Mono&quot;, monospace">8</text>
<text x="837.6" y="699.5" font-size="23" font-weight="normal" fill="#a9caee" textLength="24.6" lengthAdjust="spacingAndGlyphs" stroke-width="0.7">CV</text>
<text x="868.8" y="699.5" font-size="23" font-weight="normal" fill="#a9caee" textLength="25.8" lengthAdjust="spacingAndGlyphs" stroke-width="0.7">CC</text>
<text x="853" y="721.8" font-size="23" font-weight="normal" fill="#a9caee" textLength="24.6" lengthAdjust="spacingAndGlyphs" stroke-width="0.7">CP</text>
<text x="837.2" y="740" font-size="15" font-weight="bold" fill="#7fb0ea" textLength="16.8" lengthAdjust="spacingAndGlyphs" stroke="none">ext</text>
<text x="874.6" y="740" font-size="15" font-weight="bold" fill="#7fb0ea" textLength="16.6" lengthAdjust="spacingAndGlyphs" stroke="none">ext</text>
<text x="840" y="756.4" font-size="18.8" font-weight="bold" fill="#a9caee" textLength="11" lengthAdjust="spacingAndGlyphs" stroke="none">V</text>
<text x="880.8" y="756.4" font-size="18.8" font-weight="bold" fill="#a9caee" textLength="3.4" lengthAdjust="spacingAndGlyphs" stroke="none">I</text>
<path d="M578.6 774 L578.6 769.4 Q578.6 764.6 582.4 764.6 Q586.2 764.6 586.2 769.4 L586.2 774" fill="none" stroke="#a9caee" stroke-width="2.4"/>
<rect x="575.9" y="772.2" width="13" height="11.4" rx="1" fill="#a9caee" stroke="none"/>
<rect x="581.4" y="775.4" width="2" height="4.8" fill="#0a1220" stroke="none"/>
</g>
</g>
<g filter="url(#tsoft)" font-family="&quot;DejaVu Sans&quot;, &quot;Liberation Sans&quot;, sans-serif" stroke="#d8d5d2" stroke-width="0.85">
<text x="563" y="811.2" font-size="18" font-weight="normal" fill="#dcd9d6" textLength="53.5" lengthAdjust="spacingAndGlyphs" >PROG</text>
<text x="646.5" y="811.2" font-size="18" font-weight="normal" fill="#dcd9d6" textLength="47.5" lengthAdjust="spacingAndGlyphs" >SYST/</text>
<text x="740" y="811.2" font-size="18" font-weight="normal" fill="#dcd9d6" textLength="55.5" lengthAdjust="spacingAndGlyphs" >CONF</text>
<text x="829" y="811.2" font-size="18" font-weight="normal" fill="#dcd9d6" textLength="47.5" lengthAdjust="spacingAndGlyphs" >PROT</text>
<text x="910" y="811.2" font-size="18" font-weight="normal" fill="#dcd9d6" textLength="66.5" lengthAdjust="spacingAndGlyphs" >COMM</text>
<text x="1045" y="811.2" font-size="18" font-weight="normal" fill="#dcd9d6" textLength="37.5" lengthAdjust="spacingAndGlyphs" >FINE</text>
<text x="1128" y="811.2" font-size="18" font-weight="normal" fill="#dcd9d6" textLength="44.5" lengthAdjust="spacingAndGlyphs" >PREV</text>
<path d="M698.6 805 L698.6 801.4 Q698.6 798.2 701.3 798.2 Q704 798.2 704 801" fill="none" stroke="#dcd9d6" stroke-width="1.6"/>
<rect x="696.8" y="804" width="10" height="7.6" rx="0.8" fill="#dcd9d6" stroke="none"/>
</g>
<g filter="url(#soft)">
<path d="M436 829 L493 829 Q499 829 502 833 L508 842 L508 865 Q508 869.5 503 869.5 L437 869.5 Q430.5 869.5 430.5 863 L430.5 835 Q430.5 829 436 829 Z" fill="#6f6f6b" opacity="0.55" filter="url(#soft1)"/>
<path d="M438 828.5 L492 828.5 Q497 828.5 500 832 L506.5 841.5 L506.5 863 Q506.5 868 501.5 868 L438 868 Q432 868 432 862 L432 834.5 Q432 828.5 438 828.5 Z" fill="#1b1b1b"/>
<path d="M438 828.5 L492 828.5 Q497 828.5 500 832 L503 836 L432.4 836 L432.4 834 Q432.4 828.5 438 828.5 Z" fill="#343434" opacity="0.45"/>
<path d="M456 857.2 L472.6 857.2 Q480 857.2 480 849.8 Q480 842.4 472.6 842.4 L459.5 842.4" fill="none" stroke="#ededed" stroke-width="2.4" stroke-linecap="round"/>
<path d="M453.6 842.2 L461.8 836.4 L461.8 848 Z" fill="#ededed"/>
</g>
<rect x="543.5" y="844" width="82" height="26" rx="7" fill="#5d5d59" opacity="0.6" filter="url(#soft1)"/>
<rect x="545" y="845.8" width="79" height="21.8" rx="6" fill="url(#btn)" filter="url(#soft)"/>
<rect x="632.5" y="844" width="82" height="26" rx="7" fill="#5d5d59" opacity="0.6" filter="url(#soft1)"/>
<rect x="634" y="845.8" width="79" height="21.8" rx="6" fill="url(#btn)" filter="url(#soft)"/>
<rect x="720.5" y="844" width="80" height="26" rx="7" fill="#5d5d59" opacity="0.6" filter="url(#soft1)"/>
<rect x="722" y="845.8" width="77" height="21.8" rx="6" fill="url(#btn)" filter="url(#soft)"/>
<rect x="810.5" y="844" width="79" height="26" rx="7" fill="#5d5d59" opacity="0.6" filter="url(#soft1)"/>
<rect x="812" y="845.8" width="76" height="21.8" rx="6" fill="url(#btn)" filter="url(#soft)"/>
<rect x="900.5" y="844" width="81" height="26" rx="7" fill="#5d5d59" opacity="0.6" filter="url(#soft1)"/>
<rect x="902" y="845.8" width="78" height="21.8" rx="6" fill="url(#btn)" filter="url(#soft)"/>
<rect x="1020" y="844" width="81.5" height="26" rx="7" fill="#5d5d59" opacity="0.6" filter="url(#soft1)"/>
<rect x="1021.5" y="845.8" width="78.5" height="21.8" rx="6" fill="url(#btn)" filter="url(#soft)"/>
<rect x="1109.5" y="844" width="82" height="26" rx="7" fill="#5d5d59" opacity="0.6" filter="url(#soft1)"/>
<rect x="1111" y="845.8" width="79" height="21.8" rx="6" fill="url(#btn)" filter="url(#soft)"/>
<circle cx="566.5" cy="857.3" r="7.2" fill="url(#led)"/>
<ellipse cx="566.5" cy="857.3" rx="2.0" ry="1.8" fill="#c4f7c0" opacity="0.6" filter="url(#glow)"/>
<circle cx="654.8" cy="857.3" r="7.2" fill="url(#led)"/>
<ellipse cx="654.8" cy="857.3" rx="2.0" ry="1.8" fill="#c4f7c0" opacity="0.6" filter="url(#glow)"/>
<circle cx="744" cy="857.3" r="7.2" fill="url(#led)"/>
<ellipse cx="744" cy="857.3" rx="2.0" ry="1.8" fill="#c4f7c0" opacity="0.6" filter="url(#glow)"/>
<circle cx="833" cy="857.3" r="7.2" fill="url(#led)"/>
<ellipse cx="833" cy="857.3" rx="2.0" ry="1.8" fill="#c4f7c0" opacity="0.6" filter="url(#glow)"/>
<circle cx="926" cy="857.3" r="7.2" fill="url(#led)"/>
<ellipse cx="926" cy="857.3" rx="2.0" ry="1.8" fill="#c4f7c0" opacity="0.6" filter="url(#glow)"/>
<circle cx="1044" cy="857.3" r="7.2" fill="url(#led)"/>
<ellipse cx="1044" cy="857.3" rx="2.0" ry="1.8" fill="#c4f7c0" opacity="0.6" filter="url(#glow)"/>
<circle cx="1134" cy="857.3" r="7.2" fill="url(#led)"/>
<ellipse cx="1134" cy="857.3" rx="2.0" ry="1.8" fill="#c4f7c0" opacity="0.6" filter="url(#glow)"/>
<g filter="url(#soft)">
<path d="M1236 842 Q1222 846 1220.5 856 Q1219.5 870 1230 870.5 L1240 870.5 L1240 842 Z" fill="#3a3a39" opacity="0.9" filter="url(#soft1)"/>
<rect x="1232.5" y="828.5" width="73" height="42" rx="6" fill="#6a6a66" opacity="0.55" filter="url(#soft1)"/>
<rect x="1234" y="830" width="69.5" height="39" rx="4" fill="#0e0e0e"/>
<rect x="1234" y="830" width="69.5" height="8" rx="4" fill="#2c2c2c" opacity="0.6"/>
<rect x="1279.8" y="835.5" width="13" height="26" rx="3" fill="#8a2c22" opacity="0.85" filter="url(#soft1)"/>
<rect x="1283.6" y="837" width="5.4" height="23" rx="2" fill="#ee7862" filter="url(#glow)"/>
</g>
<g filter="url(#tsoft)"><text x="1238.4" y="858.2" font-size="17.2" font-weight="bold" fill="#eeeeee" textLength="37" lengthAdjust="spacingAndGlyphs" font-family="&quot;Liberation Sans&quot;, sans-serif">OUT</text></g>
</g>
</g>
<g id="leaders" stroke="#1a1718" stroke-width="1.15" fill="none" stroke-linecap="butt">
<line x1="340" y1="752.6" x2="466" y2="752.6"/>
<line x1="1281.5" y1="756.8" x2="1412" y2="756.8"/>
<line x1="460" y1="868.5" x2="314.5" y2="956"/>
<line x1="563" y1="868" x2="405" y2="1007"/>
<line x1="655" y1="868" x2="527" y2="1047"/>
<line x1="752" y1="870" x2="681" y2="1097"/>
<line x1="849" y1="868" x2="845.8" y2="1098.5"/>
<line x1="945.6" y1="870" x2="986.9" y2="1098.5"/>
<line x1="1044" y1="870" x2="1180.5" y2="1087"/>
<line x1="1140" y1="870" x2="1342" y2="1053"/>
<line x1="1248" y1="870" x2="1421" y2="943"/>
<line x1="1239" y1="859" x2="1330" y2="904.6"/>
</g>
<g id="labels" font-family="&quot;Liberation Sans&quot;, sans-serif">
<text x="285" y="738" font-size="20.4" font-weight="normal" fill="#231f20" text-anchor="middle" stroke="#231f20" stroke-width="0.22">Voltage</text>
<text x="285" y="763.2" font-size="20.4" font-weight="normal" fill="#231f20" text-anchor="middle" stroke="#231f20" stroke-width="0.22">Encoder</text>
<text x="285" y="788.4" font-size="20.4" font-weight="normal" fill="#231f20" text-anchor="middle" stroke="#231f20" stroke-width="0.22">(Clickable)</text>
<text x="1461" y="738" font-size="20.4" font-weight="normal" fill="#231f20" text-anchor="middle" stroke="#231f20" stroke-width="0.22">Current</text>
<text x="1461" y="763.2" font-size="20.4" font-weight="normal" fill="#231f20" text-anchor="middle" stroke="#231f20" stroke-width="0.22">Encoder</text>
<text x="1461" y="788.4" font-size="20.4" font-weight="normal" fill="#231f20" text-anchor="middle" stroke="#231f20" stroke-width="0.22">(Clickable)</text>
<text x="296.5" y="977" font-size="20.4" font-weight="normal" fill="#231f20" text-anchor="middle" stroke="#231f20" stroke-width="0.22">Back</text>
<text x="393.5" y="1030" font-size="20.4" font-weight="normal" fill="#231f20" text-anchor="middle" stroke="#231f20" stroke-width="0.22">Program</text>
<text x="393.5" y="1055.2" font-size="20.4" font-weight="normal" fill="#231f20" text-anchor="middle" stroke="#231f20" stroke-width="0.22">Menu</text>
<text x="521.5" y="1068" font-size="20.4" font-weight="normal" fill="#231f20" text-anchor="middle" stroke="#231f20" stroke-width="0.22">System</text>
<text x="521.5" y="1093.2" font-size="20.4" font-weight="normal" fill="#231f20" text-anchor="middle" stroke="#231f20" stroke-width="0.22">Menu</text>
<text x="674" y="1120" font-size="20.4" font-weight="normal" fill="#231f20" text-anchor="middle" stroke="#231f20" stroke-width="0.22">Configurations</text>
<text x="674" y="1145.2" font-size="20.4" font-weight="normal" fill="#231f20" text-anchor="middle" stroke="#231f20" stroke-width="0.22">Menu</text>
<text x="840" y="1123" font-size="20.4" font-weight="normal" fill="#231f20" text-anchor="middle" stroke="#231f20" stroke-width="0.22">Protection</text>
<text x="840" y="1148.2" font-size="20.4" font-weight="normal" fill="#231f20" text-anchor="middle" stroke="#231f20" stroke-width="0.22">Menu</text>
<text x="983.5" y="1122" font-size="20.4" font-weight="normal" fill="#231f20" text-anchor="middle" stroke="#231f20" stroke-width="0.22">Communications</text>
<text x="983.5" y="1147.2" font-size="20.4" font-weight="normal" fill="#231f20" text-anchor="middle" stroke="#231f20" stroke-width="0.22">Menu</text>
<text x="1190.5" y="1113" font-size="20.4" font-weight="normal" fill="#231f20" text-anchor="middle" stroke="#231f20" stroke-width="0.22">FINE</text>
<text x="1190.5" y="1138.2" font-size="20.4" font-weight="normal" fill="#231f20" text-anchor="middle" stroke="#231f20" stroke-width="0.22">Output setting</text>
<text x="1373" y="1074.7" font-size="20.4" font-weight="normal" fill="#231f20" text-anchor="middle" stroke="#231f20" stroke-width="0.22">Voltage/Current</text>
<text x="1373" y="1099.9" font-size="20.4" font-weight="normal" fill="#231f20" text-anchor="middle" stroke="#231f20" stroke-width="0.22">Preview mode</text>
<text x="1431" y="965.7" font-size="20.4" font-weight="normal" fill="#231f20" text-anchor="middle" stroke="#231f20" stroke-width="0.22">Output ON/OFF</text>
<text x="1431" y="990.9" font-size="20.4" font-weight="normal" fill="#231f20" text-anchor="middle" stroke="#231f20" stroke-width="0.22">Status LED</text>
<text x="1431" y="1016.1" font-size="20.4" font-weight="normal" fill="#231f20" text-anchor="middle" stroke="#231f20" stroke-width="0.22">Alarm LED</text>
</g>
<rect x="575" y="907" width="248" height="59.5" fill="#dbe9f3"/>
<rect x="1017" y="907" width="283" height="59.5" fill="#dbe9f3"/>
<g id="boxtext" font-family="&quot;Liberation Sans&quot;, sans-serif" font-weight="bold" fill="#1a1718" font-size="27.8">
<text x="581" y="931.4" textLength="235" lengthAdjust="spacingAndGlyphs">MENU buttons and</text>
<text x="588" y="958.6" textLength="222" lengthAdjust="spacingAndGlyphs">Active menu LEDs</text>
<text x="1023" y="931.4" textLength="270" lengthAdjust="spacingAndGlyphs">Output Control buttons</text>
<text x="1059" y="958.6" textLength="199" lengthAdjust="spacingAndGlyphs">and Status LEDs</text>
</g>
<text id="title" x="231" y="545" font-size="36.5" stroke="#0b64a8" stroke-width="0.7" font-weight="bold" font-style="italic" fill="#0b64a8" textLength="760" lengthAdjust="spacingAndGlyphs" font-family="&quot;Liberation Sans&quot;, sans-serif">Front Panel Display MENU/CONTROL buttons:</text>
<g id="watermark" font-family="&quot;Noto Sans CJK SC&quot;, &quot;WenQuanYi Zen Hei&quot;, sans-serif" font-size="113" font-weight="500" letter-spacing="1.8">
<g clip-path="url(#wmOut)">
<text transform="translate(135.4 1.8) scale(1.045 1)" x="0" y="913" fill="#000000" fill-opacity="0.025">深圳市朗博途科技有限公司</text>
<text transform="translate(133.6 0) scale(1.045 1)" x="0" y="913" fill="#dedede" fill-opacity="0.52">深圳市朗博途科技有限公司</text>
</g>
<g clip-path="url(#wmIn)">
<text transform="translate(133.6 0) scale(1.045 1)" x="0" y="913" fill="#fbfbfb" fill-opacity="0.6">深圳市朗博途科技有限公司</text>
</g>
</g>
</svg>
</body>
</html>
